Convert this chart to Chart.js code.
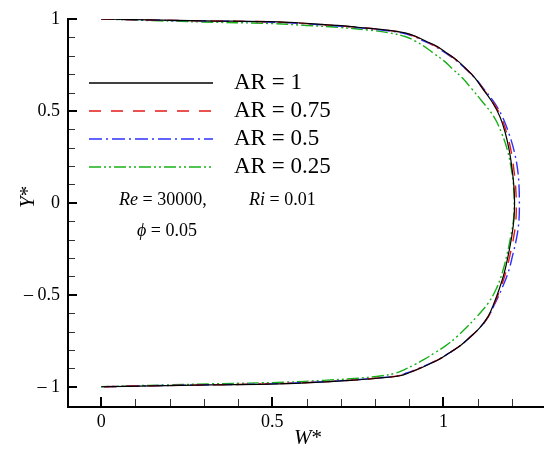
<!DOCTYPE html>
<html>
<head>
<meta charset="utf-8">
<title>W* profiles</title>
<script src="https://cdn.jsdelivr.net/npm/chart.js@4.4.1/dist/chart.umd.min.js"></script>
<style>
    html, body { margin: 0; padding: 0; background: #fff; }
    canvas { display: block; }
</style>
</head>
<body>
<canvas id="graph" width="544" height="450"></canvas>
<script>
// Y* stations shared by every profile (top wall -> bottom wall)
const yLevels = [1, 0.995, 0.99, 0.984, 0.975, 0.965, 0.955, 0.94, 0.925, 0.905, 0.88, 0.85, 0.815, 0.775, 0.73, 0.68, 0.62, 0.55, 0.47, 0.38, 0.28, 0.18, 0.09, 0,
    -0.09, -0.18, -0.28, -0.38, -0.47, -0.55, -0.62, -0.68, -0.73, -0.775, -0.815, -0.85, -0.88, -0.905, -0.925, -0.94, -0.955, -0.965, -0.975, -0.984, -0.99, -0.995, -1];

// W* at each station, one array per aspect ratio
const wAR1 = [0, 0.14, 0.30, 0.52, 0.61, 0.69, 0.75, 0.835, 0.888, 0.920, 0.948, 0.982, 1.010, 1.040, 1.066, 1.092, 1.115, 1.142, 1.165, 1.181, 1.193, 1.201, 1.206, 1.208,
    1.206, 1.200, 1.190, 1.178, 1.163, 1.147, 1.130, 1.106, 1.078, 1.050, 1.018, 0.988, 0.955, 0.925, 0.898, 0.873, 0.80, 0.73, 0.64, 0.52, 0.32, 0.15, 0];
const wAR075 = [0, 0.13, 0.29, 0.50, 0.60, 0.68, 0.745, 0.83, 0.884, 0.917, 0.946, 0.980, 1.009, 1.039, 1.066, 1.092, 1.116, 1.144, 1.168, 1.185, 1.198, 1.206, 1.211, 1.213,
    1.212, 1.206, 1.195, 1.182, 1.166, 1.149, 1.131, 1.106, 1.078, 1.050, 1.018, 0.988, 0.954, 0.924, 0.896, 0.870, 0.795, 0.725, 0.63, 0.50, 0.30, 0.14, 0];
const wAR05 = [0, 0.12, 0.27, 0.48, 0.59, 0.67, 0.735, 0.82, 0.877, 0.913, 0.943, 0.976, 1.006, 1.037, 1.064, 1.092, 1.118, 1.147, 1.172, 1.191, 1.207, 1.217, 1.221, 1.222,
    1.221, 1.215, 1.203, 1.189, 1.170, 1.150, 1.131, 1.106, 1.078, 1.050, 1.018, 0.987, 0.953, 0.922, 0.893, 0.865, 0.79, 0.72, 0.62, 0.49, 0.29, 0.13, 0];
const wAR025 = [0, 0.08, 0.17, 0.29, 0.50, 0.60, 0.69, 0.78, 0.84, 0.888, 0.918, 0.945, 0.970, 1.000, 1.026, 1.055, 1.083, 1.114, 1.147, 1.170, 1.188, 1.199, 1.205, 1.207,
    1.205, 1.197, 1.186, 1.172, 1.154, 1.129, 1.097, 1.066, 1.038, 1.008, 0.975, 0.945, 0.915, 0.888, 0.862, 0.82, 0.74, 0.65, 0.54, 0.32, 0.19, 0.09, 0];

const seriesLabels = ['AR = 1', 'AR = 0.75', 'AR = 0.5', 'AR = 0.25'];
const seriesColors = ['#000000', '#e41a1a', '#3030ff', '#18b018'];
const seriesDashes = [[], [12, 10], [13, 4, 2, 4], [12, 3, 2, 3, 2, 3]];

// tick positions, only the major ones get a label
const xTicks = [0, 0.1, 0.2, 0.3, 0.4, 0.5, 0.6, 0.7, 0.8, 0.9, 1, 1.1, 1.2];
const xTickLabels = { '0': '0', '0.5': '0.5', '1': '1' };
const yTicks = [-1, -0.9, -0.8, -0.7, -0.6, -0.5, -0.4, -0.3, -0.2, -0.1, 0, 0.1, 0.2, 0.3, 0.4, 0.5, 0.6, 0.7, 0.8, 0.9, 1];
const yTickLabels = { '-1': '\u2013 1', '-0.5': '\u2013 0.5', '0': '0', '0.5': '0.5', '1': '1' };

const serif = '"Liberation Serif", "Times New Roman", serif';

function toPoints(ws) {
    return ws.map((w, i) => ({ x: w, y: yLevels[i] }));
}

function tickKey(v) {
    return String(Math.round(v * 10) / 10);
}

function makeDataset(i, ws) {
    return {
        label: seriesLabels[i],
        data: toPoints(ws),
        showLine: true,
        borderColor: seriesColors[i],
        borderWidth: i === 0 ? 1.2 : 1.4,
        borderDash: seriesDashes[i],
        pointRadius: 0,
        tension: 0.4,
        fill: false
    };
}

// draw a run of text pieces, some of them italic
function drawRich(ctx, parts, x, y, size) {
    ctx.textBaseline = 'middle';
    ctx.textAlign = 'left';
    parts.forEach(p => {
        ctx.font = (p[1] ? 'italic ' : '') + size + 'px ' + serif;
        ctx.fillText(p[0], x, y);
        x += ctx.measureText(p[0]).width;
    });
}

// axes, inward ticks, titles, legend and the notes
const framePlugin = {
    id: 'frame',
    afterDraw(chart) {
        const ctx = chart.ctx;
        const area = chart.chartArea;
        const xs = chart.scales.x;
        const ys = chart.scales.y;
        ctx.save();

        // ticks
        xs.ticks.forEach(t => {
            const px = Math.round(xs.getPixelForValue(t.value));
            const major = xTickLabels[tickKey(t.value)] !== undefined;
            const off = major ? 0 : 0.5;
            ctx.beginPath();
            ctx.lineWidth = major ? 2 : 1;
            ctx.strokeStyle = major ? '#000' : '#333';
            ctx.moveTo(px + off, area.bottom);
            ctx.lineTo(px + off, area.bottom - (major ? 10 : 8));
            ctx.stroke();
        });
        ys.ticks.forEach(t => {
            const py = Math.round(ys.getPixelForValue(t.value));
            const major = yTickLabels[tickKey(t.value)] !== undefined;
            const off = major ? 0 : 0.5;
            ctx.beginPath();
            ctx.lineWidth = major ? 2 : 1;
            ctx.strokeStyle = major ? '#000' : '#333';
            ctx.moveTo(area.left, py + off);
            ctx.lineTo(area.left + (major ? 10 : 8), py + off);
            ctx.stroke();
        });

        // axis lines
        ctx.beginPath();
        ctx.lineWidth = 2;
        ctx.strokeStyle = '#000';
        ctx.moveTo(area.left + 1, area.top);
        ctx.lineTo(area.left + 1, area.bottom);
        ctx.lineTo(area.right, area.bottom);
        ctx.stroke();

        // axis titles
        ctx.fillStyle = '#000';
        drawRich(ctx, [['W', true], ['*', false]], 294, 438, 21);
        ctx.save();
        ctx.translate(28, 198);
        ctx.rotate(-Math.PI / 2);
        drawRich(ctx, [['Y', true], ['*', false]], -10, 0, 21);
        ctx.restore();

        // legend
        const rows = [83, 111, 139, 167];
        seriesLabels.forEach((label, i) => {
            ctx.beginPath();
            ctx.lineWidth = 1.6;
            ctx.strokeStyle = seriesColors[i];
            ctx.setLineDash(seriesDashes[i]);
            ctx.moveTo(89, rows[i]);
            ctx.lineTo(213, rows[i]);
            ctx.stroke();
            ctx.setLineDash([]);
            ctx.fillStyle = '#000';
            drawRich(ctx, [[label, false]], 234, rows[i], 23);
        });

        // flow parameters
        drawRich(ctx, [['Re', true], [' = 30000,', false]], 119, 200, 18);
        drawRich(ctx, [['Ri', true], [' = 0.01', false]], 249, 200, 18);
        drawRich(ctx, [['\u03d5', true], [' = 0.05', false]], 137, 231, 18);

        ctx.restore();
    }
};

const chart = new Chart(document.getElementById('graph').getContext('2d'), {
    type: 'scatter',
    data: {
        datasets: [
            makeDataset(0, wAR1),
            makeDataset(1, wAR075),
            makeDataset(2, wAR05),
            makeDataset(3, wAR025)
        ]
    },
    options: {
        responsive: false,
        animation: false,
        layout: { padding: { top: 19, right: 0, bottom: 0, left: 0 } },
        plugins: {
            legend: { display: false },
            tooltip: { enabled: false }
        },
        scales: {
            x: {
                type: 'linear',
                min: -0.1,
                max: 1.294,
                grid: { display: false, drawTicks: false },
                border: { display: false },
                afterBuildTicks: s => { s.ticks = xTicks.map(v => ({ value: v })); },
                afterFit: s => { s.height = 43; },
                ticks: {
                    autoSkip: false,
                    maxRotation: 0,
                    padding: 4,
                    color: '#000',
                    font: { family: serif, size: 18 },
                    callback: v => xTickLabels[tickKey(v)] || ''
                }
            },
            y: {
                type: 'linear',
                min: -1.11,
                max: 1,
                grid: { display: false, drawTicks: false },
                border: { display: false },
                afterBuildTicks: s => { s.ticks = yTicks.map(v => ({ value: v })); },
                afterFit: s => { s.width = 67; },
                ticks: {
                    autoSkip: false,
                    padding: 7,
                    color: '#000',
                    font: { family: serif, size: 18 },
                    callback: v => yTickLabels[tickKey(v)] || ''
                }
            }
        }
    },
    plugins: [framePlugin]
});
</script>
</body>
</html>
